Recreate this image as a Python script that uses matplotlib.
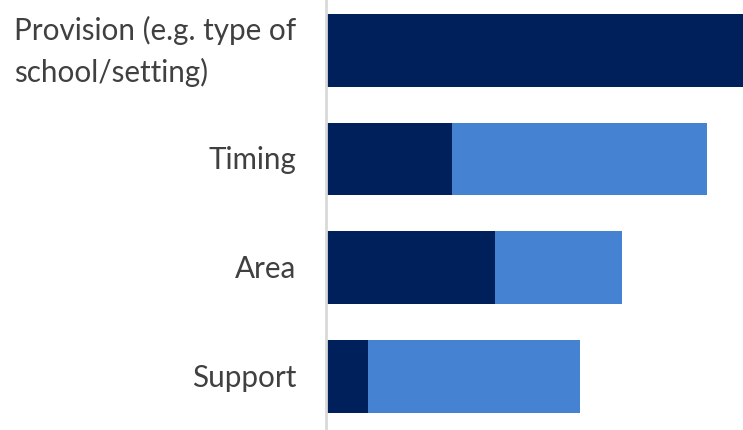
import matplotlib.pyplot as plt

# datos (unidades arbitrarias)
categorias = ['Provision (e.g. type of\nschool/setting)', 'Timing', 'Area', 'Support']
serie_oscura = [110, 30.2, 40.5, 10.1]
serie_clara = [0, 61.2, 30.5, 50.8]

color_oscuro = '#00205C'
color_claro = '#4583D2'

plt.rcParams['font.family'] = ['Lato', 'DejaVu Sans']

fig = plt.figure(figsize=(7.43, 4.31), dpi=100)
ax = fig.add_axes([326 / 743, 0, 1 - 326 / 743, 1])

y = list(range(len(categorias)))
ax.barh(y, serie_oscura, height=0.67, color=color_oscuro)
ax.barh(y, serie_clara, left=serie_oscura, height=0.67, color=color_claro)

ax.set_xlim(0, 100)
ax.set_ylim(3.49, -0.47)
ax.set_yticks(y)
ax.set_yticklabels(categorias, fontsize=21.3, color='#404040', linespacing=1.55)
for etiqueta in ax.get_yticklabels():
    etiqueta.set_multialignment('left')
    etiqueta.set_verticalalignment('center')
ax.tick_params(axis='y', length=0, pad=21.5)
ax.set_xticks([])

for lado in ['top', 'right', 'bottom']:
    ax.spines[lado].set_visible(False)
ax.spines['left'].set_color('#d9d9d9')
ax.spines['left'].set_linewidth(2)

fig.savefig('out.png', dpi=100)
